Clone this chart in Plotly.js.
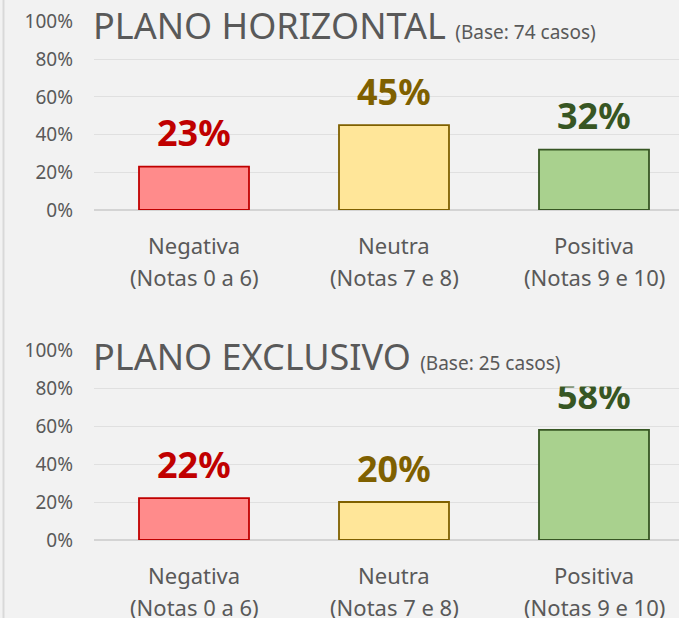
<!DOCTYPE html>
<html>
<head>
<meta charset="utf-8">
<script src="https://cdn.plot.ly/plotly-3.0.1.min.js"></script>
<style>html,body{margin:0;padding:0;background:#f2f2f2;}#chart{width:679px;height:618px;}</style>
</head>
<body>
<div id="chart"></div>
<script>
// ---- Data ----
const categories = ["Negativa", "Neutra", "Positiva"];
const subLabels = ["(Notas 0 a 6)", "(Notas 7 e 8)", "(Notas 9 e 10)"];
const horizontalValues = [0.23, 0.45, 0.32];
const exclusivoValues = [0.22, 0.20, 0.58];
const chartTitles = ["PLANO HORIZONTAL", "PLANO EXCLUSIVO"];
const chartBases = ["(Base: 74 casos)", "(Base: 25 casos)"];

// ---- Styles ----
const fillColors = ["#ff8b8b", "#ffe699", "#a9d18e"];
const lineColors = ["#c00000", "#7f6000", "#375623"];
const labelColors = ["#c00000", "#7f6000", "#375623"];
const W = 679, H = 618;
const FONT = "Noto Sans, Open Sans, sans-serif";
const grey = "#595959";

const xIdx = categories.map((c, i) => i);

function barTrace(vals, xa, ya) {
  return {
    type: "bar", x: xIdx, y: vals, xaxis: xa, yaxis: ya,
    width: 0.55,
    marker: { color: fillColors, line: { color: lineColors, width: 1.8 } },
    hoverinfo: "skip", showlegend: false
  };
}

const data = [barTrace(horizontalValues, "x", "y"), barTrace(exclusivoValues, "x2", "y2")];

function yAxis(domain, anchor) {
  return {
    domain: domain, anchor: anchor, range: [0, 1], dtick: 0.2, tick0: 0,
    tickformat: ".0%", showgrid: true, gridcolor: "#e0e0e0", gridwidth: 1,
    zeroline: true, zerolinecolor: "#d4d4d4", zerolinewidth: 2,
    showline: false, ticks: "", ticklabelstandoff: 20,
    tickfont: { family: FONT, size: 19, color: grey }, fixedrange: true
  };
}
function xAxis(anchor) {
  return {
    domain: [94 / W, 1], anchor: anchor, range: [-0.5, 2.425],
    showticklabels: false, showgrid: false, zeroline: false, showline: false,
    ticks: "", fixedrange: true
  };
}

const annotations = [];
const sets = [
  { vals: horizontalValues, xr: "x", yr: "y" },
  { vals: exclusivoValues, xr: "x2", yr: "y2" }
];
sets.forEach(s => {
  s.vals.forEach((v, i) => {
    annotations.push({
      xref: s.xr, yref: s.yr, x: i, y: v, yanchor: "middle", yshift: 34,
      text: "<b>" + Math.round(v * 100) + "%</b>", showarrow: false,
      font: { family: FONT, size: 36, color: labelColors[i] }
    });
    annotations.push({
      xref: s.xr, yref: s.yr, x: i, y: 0, yanchor: "middle", yshift: -35,
      text: categories[i], showarrow: false,
      font: { family: FONT, size: 22, color: grey }
    });
    annotations.push({
      xref: s.xr, yref: s.yr, x: i, y: 0, yanchor: "middle", yshift: -67,
      text: subLabels[i], showarrow: false,
      font: { family: FONT, size: 22, color: grey }
    });
  });
});
const titleCenters = [25, 356];
chartTitles.forEach((t, k) => {
  annotations.push({
    xref: "paper", yref: "paper", x: 92 / W, xanchor: "left",
    y: 1 - titleCenters[k] / H, yanchor: "middle",
    width: 558, height: 60, align: "left", valign: "middle",
    bgcolor: "#f2f2f2", borderpad: 0,
    text: t + " <span style='font-size:19px'>" + chartBases[k] + "</span>",
    showarrow: false, font: { family: FONT, size: 36, color: grey }
  });
});

const layout = {
  width: W, height: H,
  margin: { l: 0, r: 0, t: 0, b: 0 },
  paper_bgcolor: "#f2f2f2", plot_bgcolor: "#f2f2f2",
  xaxis: xAxis("y"), yaxis: yAxis([1 - 210 / H, 1 - 21.5 / H], "x"),
  xaxis2: xAxis("y2"), yaxis2: yAxis([1 - 540 / H, 1 - 350 / H], "x2"),
  bargap: 0.45,
  annotations: annotations,
  shapes: [{
    type: "line", xref: "paper", yref: "paper", x0: 3.5 / W, x1: 3.5 / W, y0: 0, y1: 1,
    line: { color: "#d9d9d9", width: 2 }
  }]
};

Plotly.newPlot("chart", data, layout, { staticPlot: true, displayModeBar: false });
</script>
</body>
</html>
